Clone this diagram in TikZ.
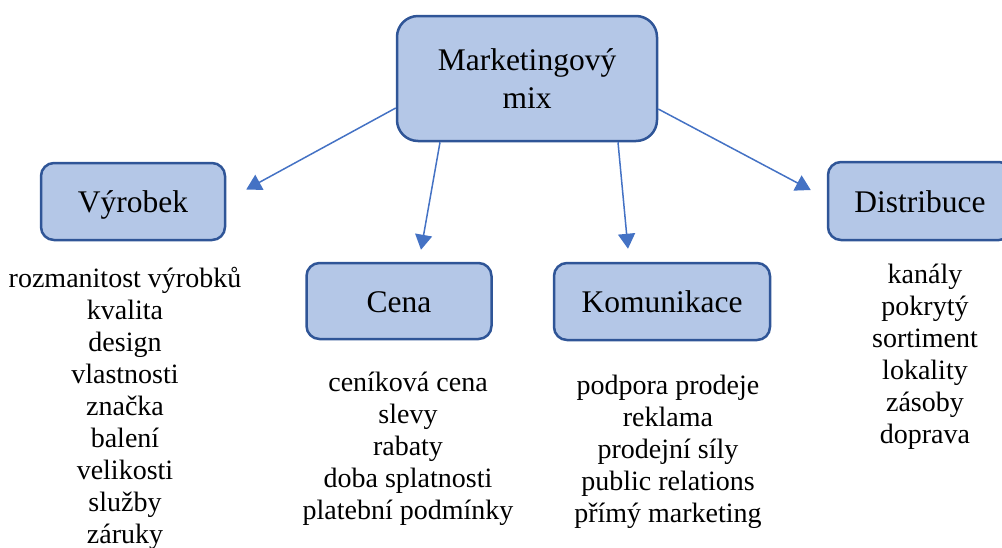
\documentclass[tikz,border=0pt]{standalone}
\usepackage{fontspec}
\setmainfont{Liberation Serif}
\usetikzlibrary{arrows.meta}
\definecolor{boxfill}{HTML}{B4C7E7}
\definecolor{boxline}{HTML}{2F5597}
\definecolor{arrowblue}{HTML}{4472C4}
\tikzset{
  mixbox/.style={draw=boxline, fill=boxfill, line width=2.5pt,
    rounded corners=13pt, inner sep=0pt,
    font=\fontsize{31.5}{38}\selectfont,
    text height=22pt, text depth=0pt},
  listitem/.style={anchor=base, inner sep=0pt,
    font=\fontsize{28}{32.4}\selectfont},
  arr/.style={draw=arrowblue, line width=1.5pt,
    -{Triangle[length=15pt,width=17pt]}, shorten >=0pt}
}
\begin{document}
\begin{tikzpicture}[x=1pt, y=-1pt]
\useasboundingbox (0,0) rectangle (1002,547);
\clip (0,0) rectangle (1002,547);

% central box
\node[mixbox, rounded corners=21pt, minimum width=260pt, minimum height=125pt,
      align=center, text height=, text depth=] (mix) at (527,78.5)
  {Marketingový\\mix};

% the four elements of the mix
\node[mixbox, minimum width=184pt, minimum height=77pt] (vyr) at (133,201.5) {Výrobek};
\node[mixbox, minimum width=185pt, minimum height=76pt] (cena) at (399,301) {Cena};
\node[mixbox, minimum width=216pt, minimum height=77pt] (kom) at (662,301.5) {Komunikace};
\node[mixbox, minimum width=184pt, minimum height=78pt] (dis) at (920,201) {Distribuce};

% arrows from the central box
\coordinate (tv) at ([xshift=20pt,yshift=12pt]vyr.east);
\coordinate (tc) at ([xshift=22pt,yshift=12pt]cena.north);
\coordinate (tk) at ([xshift=-34pt,yshift=13pt]kom.north);
\coordinate (td) at ([xshift=-16pt,yshift=11pt]dis.west);
\draw[arr] ([yshift=-29.5pt]mix.west) -- (tv);
\draw[arr] ([xshift=-87pt]mix.south) -- (tc);
\draw[arr] ([xshift=91pt]mix.south) -- (tk);
\draw[arr] ([yshift=-30.5pt]mix.east) -- (td);

% item lists
\foreach \t [count=\i from 0] in {rozmanitost výrobků, kvalita, design,
    vlastnosti, značka, balení, velikosti, služby, záruky}
  \node[listitem] (v\i) at (125,{287.5+32*\i}) {\t};
\foreach \t [count=\i from 0] in {ceníková cena, slevy, rabaty,
    doba splatnosti, platební podmínky}
  \node[listitem] (c\i) at (408,{391.5+32*\i}) {\t};
\foreach \t [count=\i from 0] in {podpora prodeje, reklama, prodejní síly,
    public relations, přímý marketing}
  \node[listitem] (k\i) at (668,{394+32*\i}) {\t};
\foreach \t [count=\i from 0] in {kanály, pokrytý, sortiment, lokality,
    zásoby, doprava}
  \node[listitem] (d\i) at (925,{283+32*\i}) {\t};
\end{tikzpicture}
\end{document}
